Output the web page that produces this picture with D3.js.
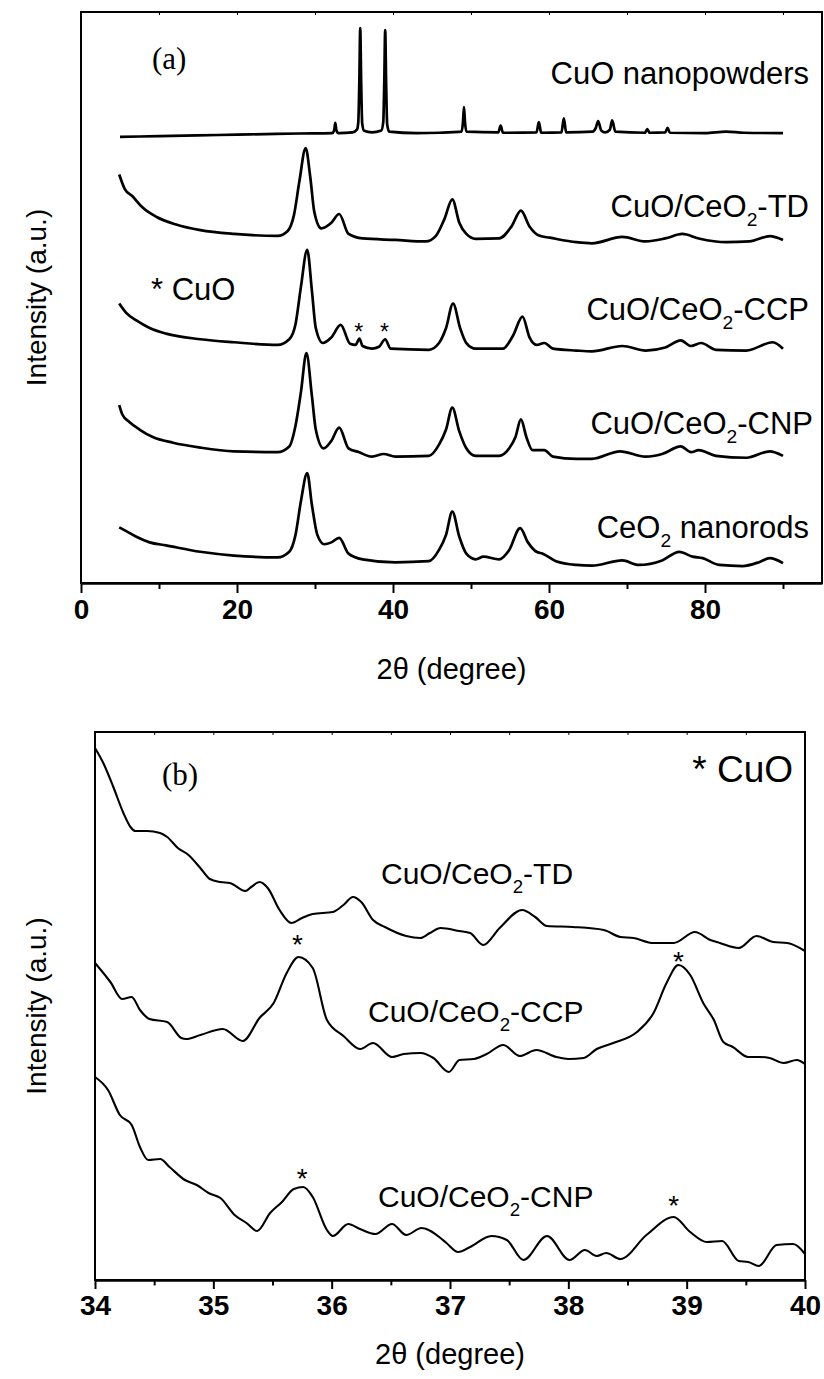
<!DOCTYPE html>
<html>
<head>
<meta charset="utf-8">
<script src="https://cdnjs.cloudflare.com/ajax/libs/d3/7.8.5/d3.min.js"></script>
<style>
  body { margin: 0; background: #fff; }
  text { font-family: "Liberation Sans", Arial, sans-serif; fill: #000; }
</style>
</head>
<body>
<svg id="chart" width="824" height="1379"></svg>
<script>
// ---- panel (a): full XRD patterns, [2theta, intensity a.u.] ----
var cuoNano = [[5,1186],[10,1188],[15,1190],[20,1192],[25,1194],[28,1195],[32.2,1196],[32.45,1203],[32.6,1223],[32.75,1203],[33.0,1196],
  [34.8,1198],[35.4,1206],[35.55,1225],[35.68,1330],[35.8,1475],[35.92,1330],[36.05,1222],[36.3,1202],[37.3,1198],[38.5,1203],
  [38.75,1225],[38.88,1330],[39.0,1470],[39.12,1330],[39.25,1220],[39.5,1200],[43,1196],[46,1197],[48.8,1200],[48.97,1225],[49.1,1265],
  [49.23,1225],[49.4,1200],[53.5,1198],[53.8,1216],[54.1,1197],[58.4,1198],[58.7,1225],[59.0,1197],[61.6,1198],[61.9,1235],[62.2,1198],
  [65.6,1200],[66.0,1210],[66.3,1228],[66.7,1203],[67.2,1198],[67.8,1205],[68.1,1230],[68.5,1200],[72.3,1197],[72.6,1207],[72.9,1197],
  [74.9,1198],[75.2,1210],[75.5,1197],[80,1196],[82.7,1200],[85,1197],[90,1196]];
var cuoTD = [[4.9,1086],[5.6,1048],[6.6,1028],[7.9,998],[9.7,973],[12.2,953],[15.3,938],[19.6,928],[25.2,923],[26.5,936],[27.3,978],
  [28.0,1068],[28.8,1156],[29.4,1078],[29.9,988],[30.8,943],[32.1,958],[33.1,981],[34.3,928],[36.1,916],[40.3,912],[44.2,908],
  [45.5,923],[46.6,968],[47.6,1020],[48.5,958],[49.4,928],[50.6,915],[53.6,916],[55.2,948],[56.4,990],[57.5,948],[58.8,923],
  [60.1,918],[63.5,906],[65.5,903],[69.4,920],[72.4,908],[74.9,916],[77.1,928],[79.2,916],[82.7,906],[85.7,908],[88.3,922],[90,912]];
var cuoCCP = [[4.9,743],[5.8,718],[7.1,698],[8.8,678],[10.9,663],[15.3,648],[19.6,640],[25.2,633],[26.7,648],[27.5,688],[28.2,788],
  [29.0,886],[29.6,778],[30.1,678],[31.0,638],[32.1,653],[33.3,686],[34.5,636],[35.2,633],[35.7,650],[36.1,630],[37.3,623],[38.2,628],
  [39.0,648],[39.7,623],[44.6,620],[45.9,638],[46.8,678],[47.7,743],[48.6,678],[49.4,638],[50.6,623],[54.1,623],[55.4,658],[56.6,708],
  [57.5,653],[58.4,633],[59.4,638],[60.5,623],[63.5,618],[65.5,616],[69.4,630],[72.4,618],[74.9,626],[76.9,645],[78.2,630],[79.5,638],
  [81.4,620],[85.3,618],[88.7,640],[90,623]];
var cuoCNP = [[4.9,473],[5.3,448],[6.2,428],[7.5,408],[9.2,388],[11.8,373],[15.3,360],[19.6,350],[25.2,348],[26.7,363],[27.5,418],
  [28.2,508],[28.9,611],[29.6,498],[30.1,408],[31.1,358],[32.1,378],[33.1,413],[34.3,358],[35.6,348],[37.3,336],[38.8,343],[40.3,336],
  [44.6,338],[45.9,368],[46.8,408],[47.6,466],[48.5,403],[49.4,358],[50.6,338],[53.6,338],[54.9,358],[55.7,388],[56.4,435],[57.1,388],
  [57.9,353],[59.4,353],[60.5,336],[63.5,330],[65.5,330],[69.1,350],[72.4,336],[74.5,343],[76.9,363],[78.2,348],[79.2,353],[81.4,338],
  [85.3,333],[88.3,350],[90,338]];
var ceoRods = [[4.9,148],[5.8,138],[7.1,123],[8.8,108],[10.9,100],[15.3,83],[19.6,73],[25.2,68],[26.7,83],[27.5,128],[28.2,218],
  [29.0,292],[29.6,208],[30.3,128],[31.2,103],[32.1,108],[33.1,120],[34.3,78],[36.1,63],[40.3,55],[44.6,58],[45.9,88],[46.8,128],
  [47.6,190],[48.5,123],[49.4,78],[50.6,63],[51.6,70],[53.6,63],[54.9,88],[56.3,146],[57.3,108],[58.4,83],[59.2,78],[60.9,58],
  [63.5,48],[65.5,46],[69.4,60],[71.5,48],[74.5,60],[76.7,83],[78.4,70],[79.7,66],[81.8,48],[84.8,45],[87.0,56],[88.3,66],[90,53]];
var starsA = [[35.6,680],[38.9,680]];

// ---- panel (b): zoom 34-40 degrees ----
var zoomTD = [[34.00,532],[34.07,517],[34.155,493],[34.24,467],[34.30,453],[34.34,449],[34.44,449],[34.55,447],[34.61,443],[34.70,432],
  [34.79,425],[34.89,412],[34.97,401],[35.06,398],[35.14,397],[35.27,389],[35.32,393],[35.39,398],[35.46,392],[35.56,370],[35.66,357],
  [35.75,362],[35.84,366],[36.01,368],[36.10,375],[36.18,383],[36.25,378],[36.35,360],[36.45,353],[36.63,344],[36.75,342],[36.83,347],
  [36.92,352],[37.08,349],[37.17,347],[37.28,335],[37.42,352],[37.61,370],[37.72,363],[37.82,354],[38.04,353],[38.30,350],[38.44,343],
  [38.55,342],[38.72,337],[38.89,337],[39.07,348],[39.20,340],[39.28,337],[39.44,332],[39.59,344],[39.73,338],[39.85,337],[40.00,329]];
var zoomCCP = [[34.00,317],[34.13,298],[34.23,281],[34.31,283],[34.38,270],[34.46,261],[34.61,258],[34.73,242],[34.77,241],[34.89,245],
  [35.08,251],[35.25,239],[35.39,262],[35.51,277],[35.62,307],[35.72,323],[35.84,312],[35.96,260],[36.10,244],[36.24,231],[36.35,237],
  [36.51,223],[36.61,226],[36.75,227],[36.86,222],[36.99,208],[37.08,220],[37.20,221],[37.31,226],[37.45,235],[37.59,224],[37.73,230],
  [37.90,223],[38.00,221],[38.13,222],[38.24,231],[38.38,237],[38.58,248],[38.72,267],[38.83,297],[38.93,315],[39.03,305],[39.14,277],
  [39.23,260],[39.31,238],[39.39,233],[39.52,223],[39.62,223],[39.70,222],[39.82,217],[39.93,220],[40.00,216]];
var zoomCNP = [[34.00,203],[34.11,190],[34.21,165],[34.31,155],[34.38,133],[34.45,120],[34.55,121],[34.63,113],[34.76,100],[34.86,95],
  [34.96,87],[35.06,82],[35.18,65],[35.28,57],[35.37,49],[35.48,67],[35.58,78],[35.68,91],[35.76,93],[35.84,83],[35.96,50],[36.01,44],
  [36.14,56],[36.24,51],[36.37,46],[36.51,56],[36.63,45],[36.76,52],[36.92,42],[36.97,37],[37.07,28],[37.17,33],[37.35,44],[37.48,40],
  [37.62,20],[37.82,44],[38.01,20],[38.14,30],[38.24,24],[38.32,27],[38.44,21],[38.66,45],[38.89,63],[39.03,48],[39.17,38],[39.30,39],
  [39.44,19],[39.52,18],[39.61,14],[39.76,35],[39.90,36],[40.00,26]];
var starsB = [[35.71,342],[38.93,325],[35.75,108],[38.89,81]];

var ticksA = [0, 20, 40, 60, 80];
var minorA = [10, 30, 50, 70, 90];
var ticksB = [34, 35, 36, 37, 38, 39, 40];
var minorB = [34.5, 35.5, 36.5, 37.5, 38.5, 39.5];

var svg = d3.select("#chart");

var xa = d3.scaleLinear().domain([0, 95]).range([81, 822]);
var ya = d3.scaleLinear().domain([0, 1518]).range([583, 12]);
var xb = d3.scaleLinear().domain([34, 40]).range([95, 805]);
var yb = d3.scaleLinear().domain([0, 548]).range([1280, 732]);

function drawPanel(x, y, series, sw, major, minor, tickLen) {
	var r = x.range(), t = y.range();
	var line = d3.line().x(d => x(d[0])).y(d => y(d[1])).curve(d3.curveMonotoneX);

	series.forEach(function(s) {
		svg.append("path")
		.attr("d", line(s))
		.attr("fill", "none")
		.attr("stroke", "#000")
		.attr("stroke-width", sw)
		.attr("stroke-linejoin", "round");
	});

	svg.append("rect")
	.attr("x", r[0]).attr("y", t[1])
	.attr("width", r[1] - r[0]).attr("height", t[0] - t[1])
	.attr("fill", "none").attr("stroke", "#000").attr("stroke-width", 2);

	var ax = svg.append("g")
	.attr("transform", `translate(0,${t[0]})`)
	.call(d3.axisBottom(x).tickValues(major).tickSize(tickLen).tickSizeOuter(0).tickPadding(6).tickFormat(d3.format("d")));
	ax.select(".domain").attr("stroke-width", 2.5);
	ax.selectAll("line").attr("stroke-width", 2);
	ax.selectAll("text")
	.style("font-family", "'Liberation Sans', Arial, sans-serif")
	.style("font-size", "28px")
	.style("font-weight", "bold");

	var mi = svg.append("g")
	.attr("transform", `translate(0,${t[0]})`)
	.call(d3.axisBottom(x).tickValues(minor).tickSize(tickLen * 0.6).tickFormat(""));
	mi.select(".domain").remove();
	mi.selectAll("line").attr("stroke-width", 2);

	// faint inward ticks along the top border
	var tp = svg.append("g")
	.attr("transform", `translate(0,${t[1]})`)
	.call(d3.axisBottom(x).tickValues(major.concat(minor)).tickSize(3).tickFormat(""));
	tp.select(".domain").remove();
	tp.selectAll("line").attr("stroke-width", 1);
}

drawPanel(xa, ya, [cuoNano, cuoTD, cuoCCP, cuoCNP, ceoRods], 2.7, ticksA, minorA, 10);
drawPanel(xb, yb, [zoomTD, zoomCCP, zoomCNP], 2.1, ticksB, minorB, 9);

// labels with CeO2 subscripts
function label(x, y, parts, size, anchor) {
	var t = svg.append("text")
	.attr("x", x).attr("y", y)
	.attr("text-anchor", anchor || "end")
	.style("font-size", size + "px");
	var shift = 0;
	parts.forEach(function(p) {
		var sub = p[1] === 1;
		var dy = sub ? size * 0.3 : -shift;
		t.append("tspan")
		.attr("dy", dy)
		.style("font-size", (sub ? size * 0.62 : size) + "px")
		.text(p[0]);
		shift = sub ? size * 0.3 : 0;
	});
	return t;
}

label(809, 84, [["CuO nanopowders"]], 31);
label(809, 217, [["CuO/CeO"], ["2", 1], ["-TD"]], 31);
label(809, 320, [["CuO/CeO"], ["2", 1], ["-CCP"]], 31);
label(813, 434, [["CuO/CeO"], ["2", 1], ["-CNP"]], 31);
label(809, 538, [["CeO"], ["2", 1], [" nanorods"]], 31);
label(151, 300, [["* CuO"]], 31, "start");

label(381, 884, [["CuO/CeO"], ["2", 1], ["-TD"]], 30, "start");
label(368, 1022, [["CuO/CeO"], ["2", 1], ["-CCP"]], 30, "start");
label(378, 1207, [["CuO/CeO"], ["2", 1], ["-CNP"]], 30, "start");
label(793, 782, [["* CuO"]], 37);

svg.append("text").attr("x", 152).attr("y", 69)
.style("font-family", "'Liberation Serif', 'Times New Roman', serif").style("font-size", "31px").text("(a)");
svg.append("text").attr("x", 162).attr("y", 785)
.style("font-family", "'Liberation Serif', 'Times New Roman', serif").style("font-size", "31px").text("(b)");

// asterisks over CuO reflections
starsA.forEach(function(d) {
	svg.append("text").attr("x", xa(d[0])).attr("y", ya(d[1]) + 13)
	.attr("text-anchor", "middle").style("font-size", "23px").text("*");
});
starsB.forEach(function(d) {
	svg.append("text").attr("x", xb(d[0])).attr("y", yb(d[1]) + 16)
	.attr("text-anchor", "middle").style("font-size", "28px").text("*");
});

// axis titles
[[ (81 + 822) / 2, 679 ], [ (95 + 805) / 2, 1364 ]].forEach(function(p) {
	svg.append("text").attr("x", p[0]).attr("y", p[1])
	.attr("text-anchor", "middle").style("font-size", "29px").text("2\u03b8 (degree)");
});
[ (12 + 583) / 2, (732 + 1280) / 2 ].forEach(function(cy) {
	svg.append("text")
	.attr("transform", `translate(46,${cy}) rotate(-90)`)
	.attr("text-anchor", "middle").style("font-size", "28px").text("Intensity (a.u.)");
});
</script>
</body>
</html>
